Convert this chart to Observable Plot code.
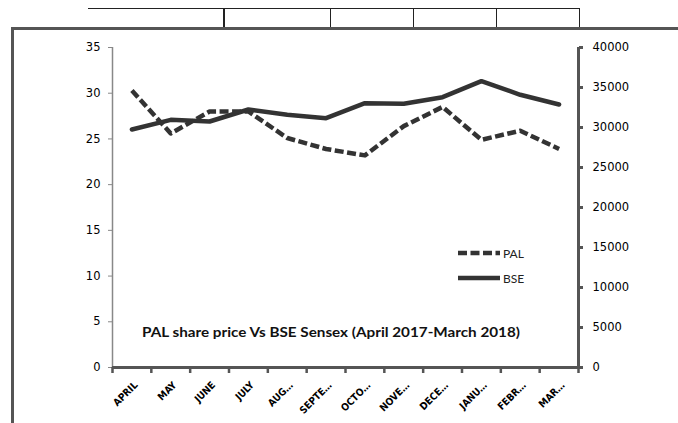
<!DOCTYPE html>
<html><head><meta charset="utf-8">
<script src="https://cdn.jsdelivr.net/npm/d3@7"></script>
<script src="https://cdn.jsdelivr.net/npm/@observablehq/plot@0.6"></script>
<style>
body{margin:0;background:#fff;}
#wrap{position:relative;width:678px;height:423px;overflow:hidden;background:#fff;}
#chart{position:absolute;left:0;top:0;}
.deco{position:absolute;}
#overlay{position:absolute;left:0;top:0;pointer-events:none;}
</style></head><body>
<div id="wrap">
  <div id="chart"></div>
  <div class="deco" style="left:88px;top:8px;width:491px;height:1px;background:#222"></div>
  <div class="deco" style="left:223px;top:8px;width:2px;height:21px;background:#222"></div>
  <div class="deco" style="left:330px;top:8px;width:1px;height:21px;background:#222"></div>
  <div class="deco" style="left:413px;top:8px;width:1px;height:21px;background:#222"></div>
  <div class="deco" style="left:496px;top:8px;width:1px;height:21px;background:#222"></div>
  <div class="deco" style="left:579px;top:8px;width:1px;height:21px;background:#222"></div>
  <div class="deco" style="left:11px;top:27px;width:667px;height:3px;background:#555"></div>
  <div class="deco" style="left:11px;top:27px;width:3px;height:396px;background:#555"></div>
  <svg id="overlay" width="678" height="423">
    <text x="142" y="337" textLength="378" lengthAdjust="spacingAndGlyphs" font-family="Lato, 'Open Sans', sans-serif" font-weight="bold" font-size="14" fill="#111">PAL share price Vs BSE Sensex (April 2017-March 2018)</text>
    <line x1="458" y1="253" x2="500" y2="253" stroke="#333" stroke-width="4.5" stroke-dasharray="9,3.5"/>
    <text x="503" y="257.5" font-family="Lato, sans-serif" font-size="12" fill="#222">PAL</text>
    <line x1="458" y1="278" x2="500" y2="278" stroke="#333" stroke-width="4.5"/>
    <text x="503" y="282.5" font-family="Lato, sans-serif" font-size="12" fill="#222">BSE</text>
  </svg>
</div>
<script>
const months = ["APRIL","MAY","JUNE","JULY","AUG…","SEPTE…","OCTO…","NOVE…","DECE…","JANU…","FEBR…","MAR…"];
const pal = [30.3, 25.6, 28.0, 28.0, 25.1, 23.9, 23.2, 26.4, 28.5, 24.9, 25.9, 23.9];
const bse = [29750, 30960, 30750, 32250, 31590, 31170, 33040, 32960, 33790, 35790, 34090, 32875];
const leftTicks = [0, 5, 10, 15, 20, 25, 30, 35];
const rightTicks = [0, 5000, 10000, 15000, 20000, 25000, 30000, 35000, 40000];
const leftMax = 35, rightMax = 40000;

const k = leftMax / rightMax;
const data = months.map((m, i) => ({i, m, pal: pal[i], bse: bse[i]}));
const n = months.length;

const chart = Plot.plot({
  width: 678, height: 423,
  marginLeft: 112, marginRight: 100, marginTop: 47, marginBottom: 56,
  style: {fontFamily: "'DejaVu Sans', Verdana, sans-serif", fontSize: "11.5px", color: "#000", background: "transparent"},
  x: {type: "linear", domain: [0, n]},
  y: {domain: [0, leftMax]},
  marks: [
    Plot.axisY(leftTicks, {anchor: "left", tickSize: 4, tickPadding: 8, stroke: "#888", label: null}),
    Plot.ruleX([0], {stroke: "#888", strokeWidth: 1.5}),
    Plot.axisY(rightTicks.map(v => v * k), {anchor: "right", tickSize: 4, tickPadding: 10, stroke: "#555", strokeWidth: 3, tickFormat: v => String(Math.round(v / k)), label: null}),
    Plot.ruleX([n], {stroke: "#555", strokeWidth: 3}),
    Plot.axisX(d3.range(n + 1), {anchor: "bottom", tickSize: 6, text: null, stroke: "#555", strokeWidth: 2.5, label: null}),
    Plot.axisX(months.map((m, i) => i + 0.5), {anchor: "bottom", tickSize: 0, tickPadding: 16, dx: 4, tickRotate: -45, fontSize: 10, fontWeight: "bold", fontFamily: "'Liberation Sans Narrow', 'DejaVu Sans Condensed', sans-serif", tickFormat: v => months[Math.floor(v)], label: null}),
    Plot.ruleY([0], {stroke: "#555", strokeWidth: 3}),
    Plot.line(data, {x: d => d.i + 0.5, y: d => d.bse * k, stroke: "#333", strokeWidth: 4.5}),
    Plot.line(data, {x: d => d.i + 0.5, y: "pal", stroke: "#333", strokeWidth: 4.5, strokeDasharray: "9 3.5", strokeLinecap: "butt", strokeLinejoin: "round"})
  ]
});
document.getElementById("chart").appendChild(chart);
</script>
</body></html>
